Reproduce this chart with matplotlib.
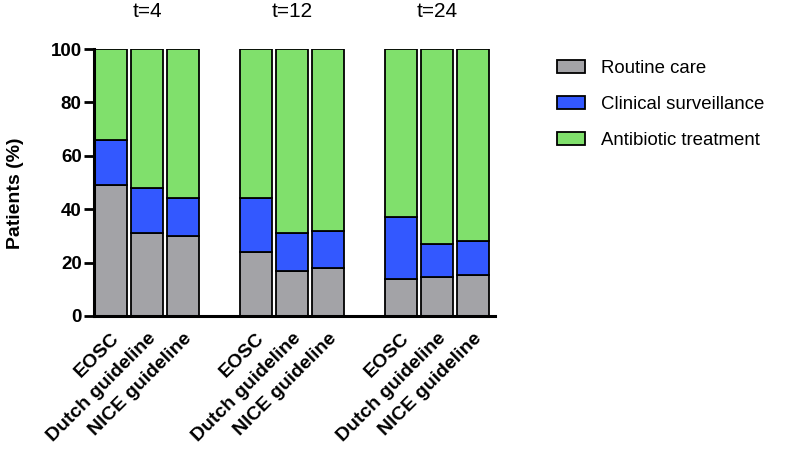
import matplotlib.pyplot as plt
import numpy as np

plt.rcParams['font.family'] = ['Liberation Sans', 'DejaVu Sans']

groups = ["t=4", "t=12", "t=24"]
strategies = ["EOSC", "Dutch guideline", "NICE guideline"]
routine = [49, 31, 30, 24, 17, 18, 14, 14.5, 15.5]
surveillance = [17, 17, 14, 20, 14, 14, 23, 12.5, 12.5]
antibiotic = [34, 52, 56, 56, 69, 68, 63, 73, 72]

colors = ["#A3A3A7", "#3358FF", "#80E06C"]
labels = ["Routine care", "Clinical surveillance", "Antibiotic treatment"]

x = np.array([g * 4 + i for g in range(len(groups)) for i in range(len(strategies))])

fig = plt.figure(figsize=(7.91, 4.5), dpi=100)
ax = fig.add_axes([0.119, 0.298, 0.507, 0.593])

bottom = np.zeros(len(x))
for vals, c, lab in zip([routine, surveillance, antibiotic], colors, labels):
    ax.bar(x, vals, bottom=bottom, width=0.88, color=c, edgecolor='black',
           linewidth=1.3, label=lab)
    bottom += np.array(vals)

ax.set_ylim(0, 100)
ax.set_xlim(-0.46, 10.6)
ax.set_yticks([0, 20, 40, 60, 80, 100])
ax.set_xticks(x)
ax.set_xticklabels(strategies * len(groups), rotation=45, ha='right',
                   rotation_mode='anchor', fontsize=14, fontweight='bold')
ax.tick_params(axis='x', length=0, pad=10)
ax.tick_params(axis='y', width=2, length=7, labelsize=13.5, pad=2)
for lbl in ax.get_yticklabels():
    lbl.set_fontweight('bold')
ax.set_ylabel("Patients (%)", fontsize=14, fontweight='bold')
ax.yaxis.set_label_coords(-0.175, 0.46)

for s in ['top', 'right']:
    ax.spines[s].set_visible(False)
for s in ['left', 'bottom']:
    ax.spines[s].set_linewidth(2.2)

for g, name in enumerate(groups):
    ax.text(g * 4 + 1, 114, name, ha='center', va='center', fontsize=15)

ax.legend(loc='upper left', bbox_to_anchor=(1.112, 1.02), frameon=False,
          fontsize=13.4, handlelength=1.5, handleheight=0.7, labelspacing=1.0,
          handletextpad=0.9)

fig.savefig("out.png", dpi=100)
